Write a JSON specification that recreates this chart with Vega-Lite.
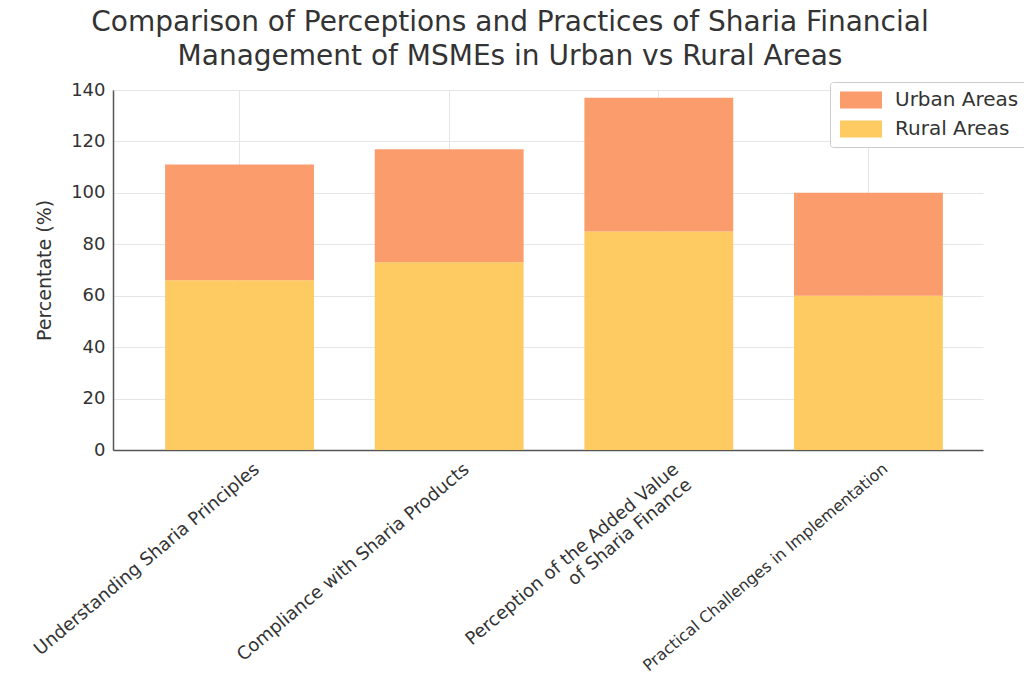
{
  "$schema": "https://vega.github.io/schema/vega-lite/v6.json",
  "autosize": "none",
  "width": 870,
  "height": 360,
  "padding": {"left": 113, "top": 90, "right": 41, "bottom": 226},
  "background": "white",
  "title": {
    "text": ["Comparison of Perceptions and Practices of Sharia Financial", "Management of MSMEs in Urban vs Rural Areas"],
    "font": "DejaVu Sans",
    "fontSize": 28,
    "fontWeight": "normal",
    "color": "#333333",
    "anchor": "middle",
    "dx": -38,
    "offset": 10,
    "lineHeight": 34
  },
  "data": {
    "values": [
      {"category": "Understanding Sharia Principles", "area": "Rural Areas", "value": 66, "ord": 0},
      {"category": "Understanding Sharia Principles", "area": "Urban Areas", "value": 45, "ord": 1},
      {"category": "Compliance with Sharia Products", "area": "Rural Areas", "value": 73, "ord": 0},
      {"category": "Compliance with Sharia Products", "area": "Urban Areas", "value": 44, "ord": 1},
      {"category": "Perception of the Added Value of Sharia Finance", "area": "Rural Areas", "value": 85, "ord": 0},
      {"category": "Perception of the Added Value of Sharia Finance", "area": "Urban Areas", "value": 52, "ord": 1},
      {"category": "Practical Challenges in Implementation", "area": "Rural Areas", "value": 60, "ord": 0},
      {"category": "Practical Challenges in Implementation", "area": "Urban Areas", "value": 40, "ord": 1}
    ]
  },
  "mark": {"type": "bar", "opacity": 0.95},
  "encoding": {
    "x": {
      "field": "category",
      "type": "nominal",
      "sort": null,
      "scale": {"paddingInner": 0.29, "paddingOuter": 0.22, "align": 0.565},
      "axis": {
        "title": null,
        "labelAngle": -40,
        "labelAlign": "right",
        "labelBaseline": "top",
        "labelFontSize": {"condition": {"test": "datum.value == 'Practical Challenges in Implementation'", "value": 16}, "value": 18},
        "labelFont": "DejaVu Sans",
        "labelColor": "#333333",
        "labelPadding": 10,
        "labelOffset": 12,
        "labelLimit": 400,
        "labelExpr": "datum.label == 'Perception of the Added Value of Sharia Finance' ? ['Perception of the Added Value', 'of Sharia Finance'] : datum.label",
        "grid": true,
        "gridColor": "#e6e6e6",
        "bandPosition": 0.5,
        "ticks": false,
        "domain": true,
        "domainColor": "#555555",
        "domainWidth": 1.5
      }
    },
    "y": {
      "field": "value",
      "type": "quantitative",
      "stack": "zero",
      "scale": {"domain": [0, 140], "nice": false},
      "axis": {
        "title": "Percentate (%)",
        "titleFont": "DejaVu Sans",
        "titleFontSize": 19,
        "titleFontWeight": "normal",
        "titleColor": "#333333",
        "titlePadding": 16,
        "values": [0, 20, 40, 60, 80, 100, 120, 140],
        "labelFont": "DejaVu Sans",
        "labelFontSize": 18,
        "labelColor": "#333333",
        "ticks": false,
        "labelPadding": 8,
        "grid": true,
        "gridColor": "#e6e6e6",
        "domainColor": "#555555",
        "domainWidth": 1.5
      }
    },
    "color": {
      "field": "area",
      "type": "nominal",
      "scale": {"domain": ["Urban Areas", "Rural Areas"], "range": ["#FA9764", "#FDC858"]},
      "legend": {
        "title": null,
        "orient": "none",
        "legendX": 717,
        "legendY": -8,
        "symbolType": "M-2.5,-1H2.5V1H-2.5Z",
        "symbolSize": 282,
        "symbolOffset": 13,
        "labelFont": "DejaVu Sans",
        "labelFontSize": 20,
        "labelColor": "#333333",
        "labelOffset": 24,
        "rowPadding": 9,
        "fillColor": "white",
        "strokeColor": "#cccccc",
        "padding": 8,
        "cornerRadius": 3,
        "symbolStrokeWidth": 0
      }
    },
    "order": {"field": "ord", "type": "quantitative"}
  },
  "config": {
    "view": {"stroke": null}
  }
}
